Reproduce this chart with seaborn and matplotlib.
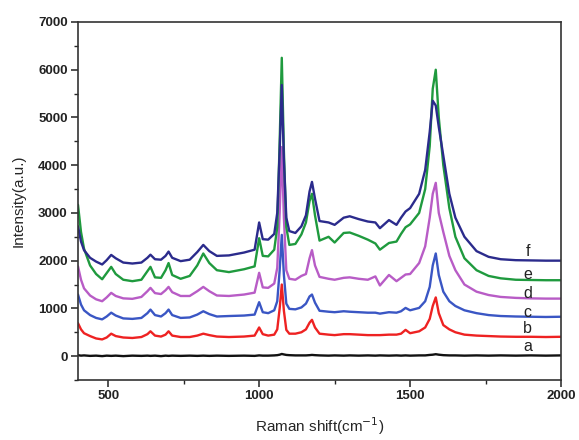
import matplotlib
matplotlib.use("Agg")
import matplotlib.pyplot as plt
import pandas as pd
import seaborn as sns
from matplotlib.ticker import MultipleLocator

# Raman shift grid (cm-1)
shift = [400, 410, 420, 440, 460, 480, 495, 510, 525, 550, 580, 610, 630, 640,
         655, 675, 690, 700, 712, 740, 770, 795, 815, 835, 860, 900, 950, 985,
         1000, 1012, 1030, 1050, 1060, 1068, 1075, 1082, 1090, 1100, 1120, 1140,
         1155, 1167, 1175, 1185, 1200, 1230, 1250, 1280, 1300, 1330, 1360, 1385,
         1400, 1430, 1455, 1470, 1485, 1500, 1530, 1550, 1565, 1575, 1585, 1595,
         1610, 1630, 1650, 1680, 1720, 1760, 1800, 1850, 1900, 1950, 2000]

spec_a = [20, 10, 15, 5, 10, 0, 10, 5, 10, 0, 10, 5, 10, 5,
          10, 0, 10, 5, 10, 5, 10, 5, 10, 5, 10, 5, 10, 5,
          15, 10, 10, 15, 20, 30, 45, 35, 25, 20, 15, 15,
          15, 20, 25, 20, 15, 10, 15, 10, 15, 10, 15, 10,
          15, 10, 15, 10, 15, 10, 15, 15, 25, 30, 40, 30,
          20, 15, 15, 10, 15, 10, 15, 10, 15, 10, 15]
spec_b = [690, 560, 480, 420, 370, 350, 390, 470, 420, 390, 380, 400, 460, 520,
          430, 410, 450, 520, 430, 400, 400, 430, 470, 440, 410, 400, 410, 430,
          600, 460, 430, 450, 560, 1000, 1500, 950, 550, 470, 470, 500,
          560, 700, 760, 600, 470, 450, 440, 460, 460, 450, 440, 440,
          440, 450, 450, 470, 550, 480, 520, 600, 780, 1050, 1230, 900,
          650, 560, 500, 450, 430, 420, 410, 405, 405, 400, 405]
spec_c = [1290, 1080, 960, 860, 800, 770, 830, 910, 850, 790, 780, 800, 900, 975,
          860, 830, 900, 975, 860, 800, 810, 870, 940, 880, 830, 840, 850, 870,
          1130, 920, 900, 960, 1150, 1800, 2540, 1700, 1100, 990, 980, 1020,
          1100, 1250, 1290, 1120, 950, 930, 920, 940, 930, 920, 910, 910,
          890, 920, 910, 940, 1010, 960, 1010, 1150, 1450, 1900, 2150, 1700,
          1350, 1150, 1050, 960, 900, 860, 840, 830, 825, 820, 825]
spec_d = [1880, 1600, 1420, 1270, 1190, 1150, 1230, 1325, 1260, 1210, 1200, 1240, 1360, 1430,
          1320, 1300, 1380, 1450, 1340, 1260, 1260, 1360, 1450, 1360, 1270, 1260, 1290, 1330,
          1745, 1440, 1430, 1520, 1850, 3000, 4380, 2900, 1800, 1620, 1600, 1680,
          1720, 2050, 2220, 1900, 1660, 1620, 1600, 1640, 1650, 1620, 1600, 1670,
          1480, 1700, 1570, 1640, 1710, 1720, 1950, 2300, 2900, 3400, 3630, 3000,
          2600, 2100, 1800, 1500, 1350, 1280, 1240, 1220, 1210, 1205, 1205]
spec_e = [3170, 2600, 2250, 1900, 1720, 1610, 1740, 1870, 1720, 1600, 1570, 1600, 1780, 1870,
          1650, 1640, 1800, 1950, 1700, 1620, 1680, 1900, 2150, 1950, 1800, 1760, 1820, 1880,
          2470, 2100, 2090, 2230, 2700, 4500, 6250, 4300, 2700, 2330, 2350, 2550,
          2800, 3250, 3400, 2950, 2420, 2500, 2380, 2580, 2590, 2520, 2440, 2360,
          2230, 2370, 2400, 2560, 2700, 2760, 3000, 3500, 4400, 5600, 6000, 5000,
          4000, 3100, 2500, 2050, 1800, 1680, 1630, 1600, 1595, 1590, 1590]
spec_f = [2720, 2400, 2220, 2060, 1980, 1920, 2010, 2120, 2050, 1960, 1940, 1960, 2060, 2125,
          2030, 2020, 2100, 2190, 2060, 1990, 2020, 2180, 2330, 2200, 2100, 2110, 2170, 2230,
          2800, 2450, 2440, 2560, 3000, 4300, 5680, 4100, 2900, 2620, 2580, 2720,
          2950, 3450, 3650, 3300, 2830, 2800, 2750, 2900, 2930, 2870, 2820, 2800,
          2680, 2850, 2750, 2900, 3030, 3100, 3400, 3900, 4700, 5350, 5250, 4800,
          4200, 3400, 2900, 2500, 2200, 2080, 2030, 2010, 2005, 2000, 2000]

labels = ["a", "b", "c", "d", "e", "f"]
label_y = [200, 580, 910, 1310, 1710, 2190]
colors = ["#111111", "#ee2222", "#3a56c4", "#b85cc6", "#1f9a3e", "#2b2b8c"]

spectra = [spec_a, spec_b, spec_c, spec_d, spec_e, spec_f]
frames = []
for lab, spec in zip(labels, spectra):
    frames.append(pd.DataFrame({"shift": shift, "intensity": spec, "sample": lab}))
df = pd.concat(frames, ignore_index=True)

sns.set_style("ticks")
plt.rcParams["font.family"] = ["Liberation Sans", "DejaVu Sans"]

fig = plt.figure(figsize=(5.79, 4.40), dpi=100)
ax = fig.add_axes([0.1347, 0.1364, 0.969 - 0.1347, 0.95 - 0.1364])

sns.lineplot(data=df, x="shift", y="intensity", hue="sample",
             palette=dict(zip(labels, colors)), linewidth=1.7,
             legend=False, ax=ax, sort=False)

for lab, y in zip(labels, label_y):
    ax.text(1890, y, lab, fontsize=11.5, ha="center", va="center", color="#222222")

ax.set_xlim(400, 2000)
ax.set_ylim(-500, 7000)
ax.xaxis.set_major_locator(MultipleLocator(500))
ax.xaxis.set_minor_locator(MultipleLocator(250))
ax.yaxis.set_major_locator(MultipleLocator(1000))
ax.yaxis.set_minor_locator(MultipleLocator(500))
ax.tick_params(which="major", direction="out", length=5, width=1.1, pad=2.5,
               labelsize=9.5, colors="#222222")
ax.tick_params(which="minor", direction="out", length=3.2, width=1.0)
for lbl in ax.get_xticklabels() + ax.get_yticklabels():
    lbl.set_fontweight("bold")
for sp in ax.spines.values():
    sp.set_visible(True)
    sp.set_linewidth(1.2)
    sp.set_color("#333333")

ax.set_xlabel("Raman shift(cm$^{-1}$)", fontsize=11, labelpad=9)
ax.set_ylabel("Intensity(a.u.)", fontsize=11, labelpad=9)

fig.savefig("out.png", dpi=100)
